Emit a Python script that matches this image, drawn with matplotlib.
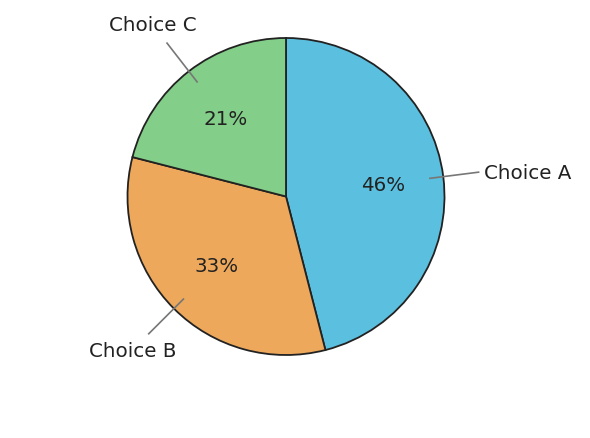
import numpy as np
import matplotlib.pyplot as plt

# data
labels = ['Choice A', 'Choice B', 'Choice C']
values = [46, 33, 21]
colors = ['#5bc0df', '#eda85c', '#83ce88']

R_PX = 158.5
fig = plt.figure(figsize=(5.9, 4.39), dpi=100)
ax = fig.add_axes([0, 0, 1, 1])

wedges, texts, autotexts = ax.pie(
    values, colors=colors, startangle=90, counterclock=False,
    autopct='%d%%', pctdistance=0.62, radius=1, center=(0, 0),
    wedgeprops=dict(edgecolor='#222222', linewidth=1.3),
    textprops=dict(fontsize=14.3, color='#222222'))

# pie() resets limits, so set them afterwards: 1 unit = R_PX pixels
ax.set_aspect('auto')
ax.set_xlim(-286 / R_PX, 304 / R_PX)
ax.set_ylim(-241.5 / R_PX, 197.5 / R_PX)
ax.axis('off')

for w, lab in zip(wedges, labels):
    ang = np.deg2rad((w.theta1 + w.theta2) / 2)
    c, s = np.cos(ang), np.sin(ang)
    ax.plot([0.91 * c, 1.23 * c], [0.91 * s, 1.23 * s], color='#777777',
            lw=1.2, solid_capstyle='butt')
    if abs(c) > 0.9:
        ha = 'left' if c > 0 else 'right'
        ax.text(1.23 * c + 0.03 * np.sign(c), 1.23 * s, lab, ha=ha, va='center',
                fontsize=14.3, color='#222222')
    else:
        ax.text(1.37 * c, 1.37 * s, lab, ha='center', va='center',
                fontsize=14.3, color='#222222')

fig.savefig('out.png', dpi=100)
